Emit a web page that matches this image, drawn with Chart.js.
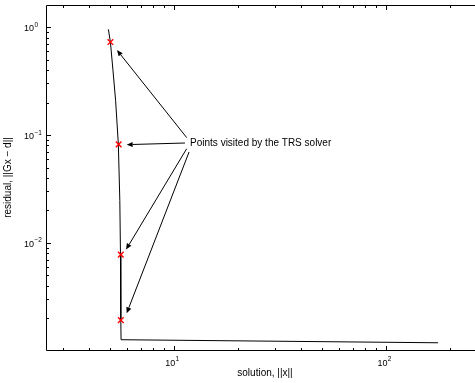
<!DOCTYPE html>
<html>
<head>
<meta charset="utf-8">
<title>L-curve</title>
<style>
  body { margin: 0; background: #ffffff; overflow: hidden; }
  #box { width: 475px; height: 383px; }
</style>
<script src="https://cdn.jsdelivr.net/npm/chart.js@4/dist/chart.umd.min.js"></script>
</head>
<body>
<div id="box"><canvas id="graph"></canvas></div>
<script>
  // L-curve: solution norm vs residual norm
  var curveX = [4.92, 5.03, 5.17, 5.32, 5.48, 5.57, 5.61, 5.63, 5.645, 176];
  var curveY = [0.952, 0.726, 0.399, 0.210, 0.0832, 0.0248, 0.0078, 0.00195, 0.00127, 0.00119];
  // points visited by the TRS solver
  var markX = [5.03, 5.50, 5.63, 5.63];
  var markY = [0.726, 0.082, 0.0078, 0.00193];
  // annotation: text anchor, arrow tails and tips (data coords)
  var noteText = 'Points visited by the TRS solver';
  var noteX = 11.94, noteY = 0.0843;
  var tailX = [11.51, 11.30, 11.51, 11.81];
  var tailY = [0.0946, 0.0843, 0.0747, 0.0696];
  var tipX = [5.40, 6.00, 5.96, 6.00];
  var tipY = [0.612, 0.0814, 0.00868, 0.00223];
  // ticks
  var xMajor = [10, 100];
  var xExp = ['1', '2'];
  var yMajor = [0.01, 0.1, 1];
  var yExp = ['\u22122', '\u22121', '0'];
  var xTitle = 'solution, ||x||';
  var yTitle = 'residual, ||Gx \u2212 d||';

  var FONT = '"Liberation Sans", Arial, Helvetica, sans-serif';

  function minors(lo, hi) {
    var out = [];
    for (var d = Math.pow(10, Math.floor(Math.log10(lo))); d < hi; d *= 10) {
      for (var k = 1; k < 10; k++) {
        var v = d * k;
        if (v > lo && v < hi) out.push(v);
      }
    }
    return out;
  }

  var framePlugin = {
    id: 'frame',
    afterDraw: function (chart) {
      var ctx = chart.ctx, a = chart.chartArea;
      var xs = chart.scales.x, ys = chart.scales.y;
      ctx.save();
      ctx.strokeStyle = '#000';
      ctx.fillStyle = '#000';
      ctx.lineWidth = 1;
      // box (no right side, it is outside the picture)
      var L = Math.round(a.left) + 0.5, T = Math.round(a.top) + 0.5, B = Math.round(a.bottom) + 0.5;
      ctx.beginPath();
      ctx.moveTo(chart.width, T); ctx.lineTo(L, T); ctx.lineTo(L, B); ctx.lineTo(chart.width, B);
      ctx.stroke();
      // inward ticks
      ctx.beginPath();
      minors(xs.min, xs.max).forEach(function (v) {
        var px = Math.round(xs.getPixelForValue(v)) + 0.5;
        var len = xMajor.indexOf(v) >= 0 ? 4.5 : 2.5;
        ctx.moveTo(px, B); ctx.lineTo(px, B - len);
        ctx.moveTo(px, T); ctx.lineTo(px, T + len);
      });
      minors(ys.min, ys.max).forEach(function (v) {
        var py = Math.round(ys.getPixelForValue(v)) + 0.5;
        var len = yMajor.some(function (m) { return Math.abs(m - v) / m < 1e-6; }) ? 4.5 : 2.5;
        ctx.moveTo(L, py); ctx.lineTo(L + len, py);
      });
      ctx.stroke();
      // tick labels: 10 with superscript exponent
      ctx.textBaseline = 'alphabetic';
      xMajor.forEach(function (v, i) {
        var px = xs.getPixelForValue(v);
        ctx.font = '9px ' + FONT;
        ctx.textAlign = 'right';
        ctx.fillText('10', px + 1.5, B + 15.5);
        ctx.font = '6.5px ' + FONT;
        ctx.textAlign = 'left';
        ctx.fillText(xExp[i], px + 1.8, B + 10);
      });
      yMajor.forEach(function (v, i) {
        var py = ys.getPixelForValue(v);
        ctx.font = '9px ' + FONT;
        ctx.textAlign = 'right';
        ctx.fillText('10', L - 12.5, py + 4);
        ctx.font = '6.5px ' + FONT;
        ctx.textAlign = 'left';
        ctx.fillText(yExp[i], L - 12, py - 0.5);
      });
      // axis titles
      ctx.font = '10px ' + FONT;
      ctx.textAlign = 'center';
      ctx.fillText(xTitle, (a.left + a.right) / 2 + 4.5, B + 25.5);
      ctx.save();
      ctx.translate(11, (a.top + a.bottom) / 2);
      ctx.rotate(-Math.PI / 2);
      ctx.fillText(yTitle, 0, 0);
      ctx.restore();
      // annotation text and arrows
      ctx.textAlign = 'left';
      ctx.textBaseline = 'middle';
      ctx.fillText(noteText, xs.getPixelForValue(noteX), ys.getPixelForValue(noteY));
      for (var i = 0; i < tipX.length; i++) {
        var x0 = xs.getPixelForValue(tailX[i]), y0 = ys.getPixelForValue(tailY[i]);
        var x1 = xs.getPixelForValue(tipX[i]), y1 = ys.getPixelForValue(tipY[i]);
        var ang = Math.atan2(y1 - y0, x1 - x0);
        var hl = 6, hw = 2.6;
        var bx = x1 - hl * Math.cos(ang), by = y1 - hl * Math.sin(ang);
        ctx.beginPath();
        ctx.moveTo(x0, y0); ctx.lineTo(bx, by);
        ctx.stroke();
        ctx.beginPath();
        ctx.moveTo(x1, y1);
        ctx.lineTo(bx + hw * Math.sin(ang), by - hw * Math.cos(ang));
        ctx.lineTo(bx - hw * Math.sin(ang), by + hw * Math.cos(ang));
        ctx.closePath();
        ctx.fill();
      }
      ctx.restore();
    }
  };

  var curve = curveX.map(function (x, i) { return { x: x, y: curveY[i] }; });
  var marks = markX.map(function (x, i) { return { x: x, y: markY[i] }; });

  new Chart(document.getElementById('graph'), {
    type: 'scatter',
    data: {
      datasets: [
        {
          data: marks,
          pointStyle: 'crossRot',
          pointRadius: 4,
          borderColor: '#ff0000',
          borderWidth: 1.4,
          order: 0
        },
        {
          data: curve,
          showLine: true,
          pointRadius: 0,
          borderColor: '#000000',
          borderWidth: 1,
          tension: 0,
          order: 1
        }
      ]
    },
    options: {
      responsive: true,
      maintainAspectRatio: false,
      animation: false,
      events: [],
      layout: { autoPadding: false, padding: { top: 5, left: 0, right: 0, bottom: 0 } },
      plugins: { legend: { display: false }, tooltip: { enabled: false } },
      scales: {
        x: {
          type: 'logarithmic',
          min: 2.5,
          max: 263,
          ticks: { display: false },
          grid: { display: false },
          border: { display: false },
          afterFit: function (s) {
            s.height = 33;
            s.paddingLeft = 0; s.paddingRight = 0;
          }
        },
        y: {
          type: 'logarithmic',
          min: 0.00102,
          max: 1.6,
          ticks: { display: false },
          grid: { display: false },
          border: { display: false },
          afterFit: function (s) {
            s.width = 46;
            s.paddingTop = 0; s.paddingBottom = 0;
          }
        }
      }
    },
    plugins: [framePlugin]
  });
</script>
</body>
</html>
